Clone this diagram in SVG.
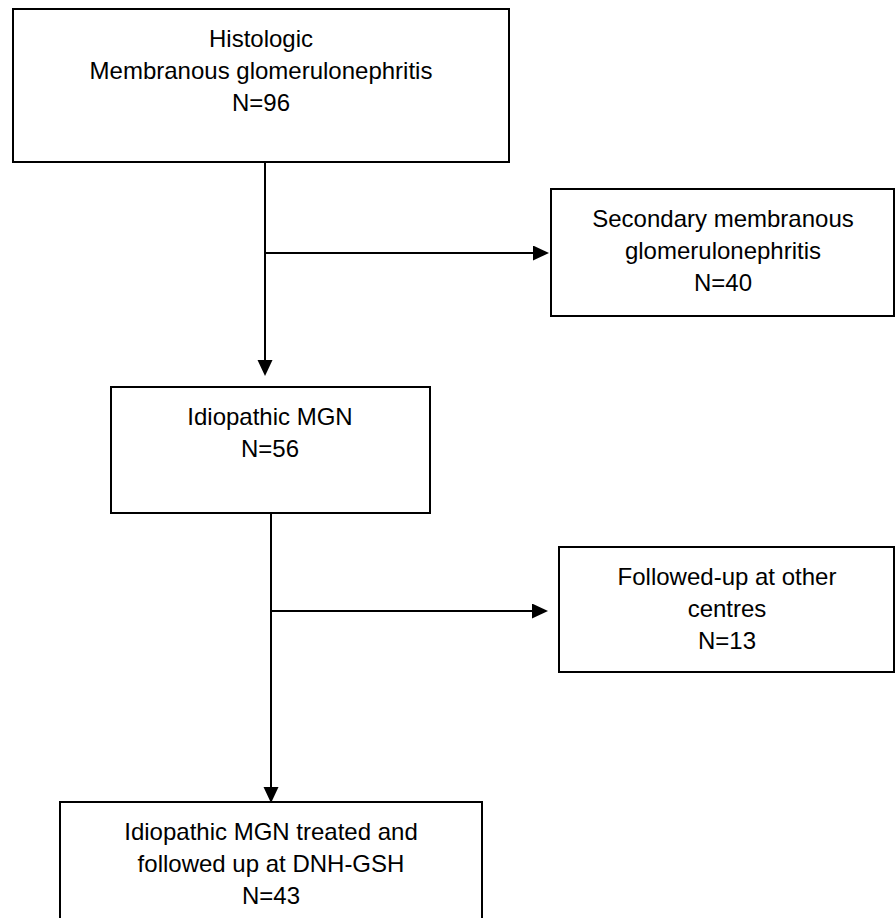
<svg xmlns="http://www.w3.org/2000/svg" width="896" height="918" viewBox="0 0 896 918">
<defs>
<style>
.box{fill:#fff;stroke:#000;stroke-width:2}
.t{font-family:"Liberation Sans",Arial,sans-serif;font-size:24px;fill:#000;text-anchor:middle}
.c{fill:none;stroke:#000;stroke-width:2}
</style>
<marker id="arr" markerUnits="userSpaceOnUse" markerWidth="16" markerHeight="16" viewBox="0 0 16 16" refX="0" refY="7.5" orient="auto">
<path d="M0 0 L16 7.5 L0 15 Z" fill="#000"/>
</marker>
</defs>
<rect width="896" height="918" fill="#fff"/>
<g id="connectors">
<path class="c" d="M265 162 V360" marker-end="url(#arr)"/>
<path class="c" d="M265 253 H533" marker-end="url(#arr)"/>
<path class="c" d="M271 513 V787" marker-end="url(#arr)"/>
<path class="c" d="M271 611 H532" marker-end="url(#arr)"/>
</g>
<g id="n1">
<rect class="box" x="13" y="9" width="496" height="153"/>
<text class="t" x="261" y="47">Histologic</text>
<text class="t" x="261" y="79">Membranous glomerulonephritis</text>
<text class="t" x="261" y="111">N=96</text>
</g>
<g id="n2">
<rect class="box" x="551" y="189" width="343" height="127"/>
<text class="t" x="723" y="227">Secondary membranous</text>
<text class="t" x="723" y="259">glomerulonephritis</text>
<text class="t" x="723" y="291">N=40</text>
</g>
<g id="n3">
<rect class="box" x="111" y="387" width="319" height="126"/>
<text class="t" x="270" y="425">Idiopathic MGN</text>
<text class="t" x="270" y="457">N=56</text>
</g>
<g id="n4">
<rect class="box" x="559" y="547" width="335" height="125"/>
<text class="t" x="727" y="585">Followed-up at other</text>
<text class="t" x="727" y="617">centres</text>
<text class="t" x="727" y="649">N=13</text>
</g>
<g id="n5">
<rect class="box" x="60" y="802" width="422" height="130"/>
<text class="t" x="271" y="840">Idiopathic MGN treated and</text>
<text class="t" x="271" y="872">followed up at DNH-GSH</text>
<text class="t" x="271" y="904">N=43</text>
</g>
</svg>
